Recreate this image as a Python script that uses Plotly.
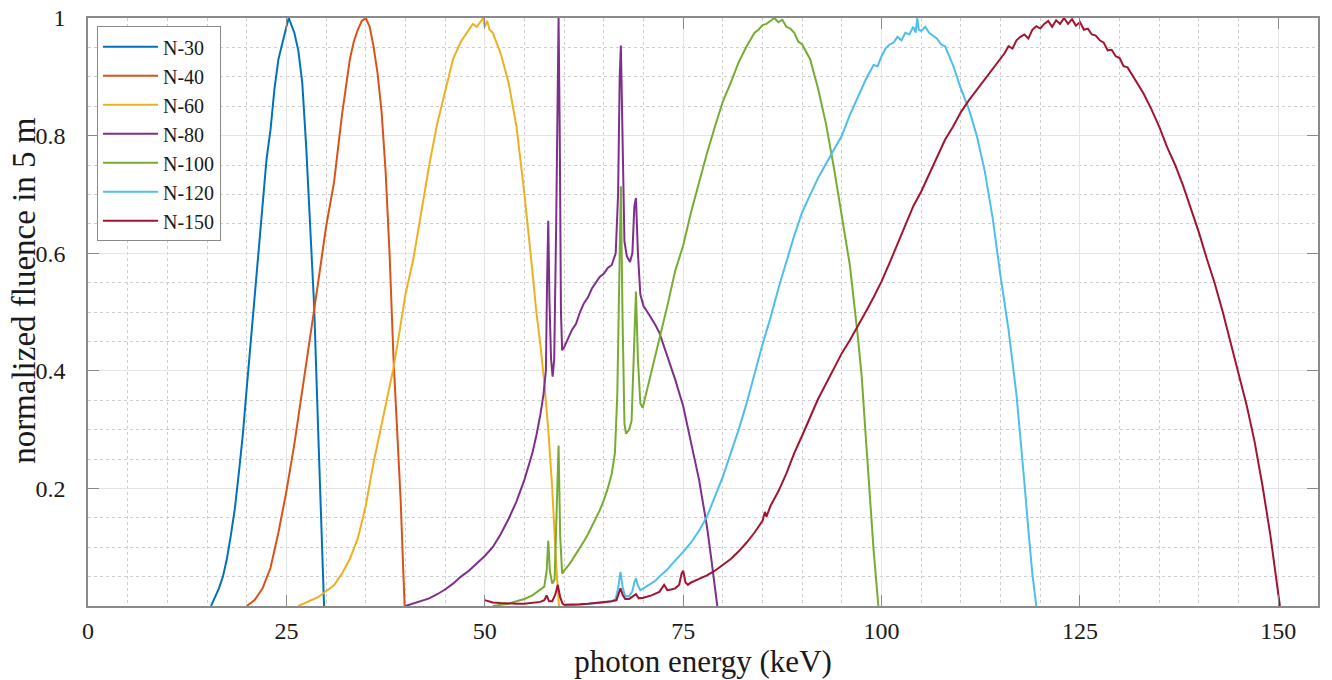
import plotly.graph_objects as go

# ---------------- data ----------------
series_names = ["N-30", "N-40", "N-60", "N-80", "N-100", "N-120", "N-150"]
series_colors = ["#0072BD", "#D95319", "#EDB120", "#7E2F8E", "#77AC30", "#4DBEEE", "#A2142F"]

e_n30 = [15.5, 16, 16.5, 17, 17.5, 18, 18.5, 19, 19.5, 20, 20.5, 21, 21.5, 22, 22.5, 23, 23.5, 24,
         24.5, 25, 25.3, 25.6, 26, 26.5, 27, 27.5, 28, 28.5, 29, 29.3, 29.6, 29.75]
f_n30 = [0, 0.015, 0.03, 0.05, 0.08, 0.12, 0.165, 0.225, 0.29, 0.37, 0.45, 0.52, 0.6, 0.69, 0.76, 0.81,
         0.88, 0.93, 0.96, 0.985, 1.0, 0.99, 0.975, 0.945, 0.89, 0.78, 0.655, 0.51, 0.3, 0.165, 0.04, 0]

e_n40 = [20, 21, 22, 23, 24, 25, 26, 27, 28, 29, 30, 31, 32, 33, 33.5, 34, 34.5, 35, 35.5, 36, 36.5,
         37, 37.5, 38, 38.5, 39, 39.4, 39.7, 39.9]
f_n40 = [0, 0.01, 0.03, 0.065, 0.125, 0.195, 0.275, 0.365, 0.455, 0.55, 0.645, 0.72, 0.835, 0.93, 0.96,
         0.98, 0.995, 1.0, 0.985, 0.95, 0.905, 0.84, 0.74, 0.6, 0.42, 0.29, 0.18, 0.07, 0]

e_n60 = [26.5, 27, 28, 29, 30, 31, 32, 33, 34, 35, 36, 37, 38, 38.5, 39, 40, 41, 42, 43, 44, 45, 46,
         47, 48, 48.5, 49, 49.5, 49.8, 50, 50.3, 50.6, 51, 52, 53, 54, 55, 56, 56.5, 57, 57.5, 58,
         58.5, 59, 59.35]
f_n60 = [0, 0.003, 0.008, 0.015, 0.025, 0.035, 0.055, 0.08, 0.115, 0.17, 0.245, 0.31, 0.375, 0.405,
         0.445, 0.53, 0.59, 0.67, 0.75, 0.82, 0.875, 0.93, 0.96, 0.98, 0.99, 0.985, 0.995, 1.0, 0.985,
         0.995, 0.98, 0.975, 0.94, 0.89, 0.815, 0.7, 0.57, 0.5, 0.445, 0.38, 0.3, 0.2, 0.07, 0]

e_n80 = [40, 41, 42, 43, 44, 45, 46, 47, 48, 49, 50, 51, 52, 53, 54, 55, 56, 56.5, 57, 57.4, 57.7,
         57.85, 58.0, 58.15, 58.35, 58.55, 58.75, 59.0, 59.2, 59.3, 59.45, 59.6, 59.75, 60, 60.5, 61,
         61.5, 62, 62.5, 63, 63.5, 64, 64.5, 65, 65.5, 66, 66.5, 66.8, 67.0, 67.15, 67.35, 67.6, 67.9,
         68.3, 68.6, 68.85, 69.05, 69.3, 69.6, 70, 70.5, 71, 71.5, 72, 73, 74, 75, 76, 76.5, 77, 77.5,
         78, 78.5, 79, 79.3]
f_n80 = [0, 0.004, 0.008, 0.013, 0.02, 0.028, 0.038, 0.05, 0.06, 0.072, 0.085, 0.1, 0.122, 0.148,
         0.178, 0.215, 0.26, 0.29, 0.325, 0.36, 0.4, 0.55, 0.655, 0.52, 0.42, 0.39, 0.42, 0.65, 0.95,
         1.0, 0.8, 0.5, 0.435, 0.44, 0.455, 0.47, 0.48, 0.5, 0.515, 0.525, 0.54, 0.55, 0.56, 0.565,
         0.575, 0.58, 0.6, 0.7, 0.9, 0.953, 0.8, 0.62, 0.595, 0.585, 0.6, 0.68, 0.694, 0.6, 0.53, 0.51,
         0.5, 0.49, 0.478, 0.465, 0.425, 0.385, 0.34, 0.28, 0.25, 0.215, 0.175, 0.135, 0.085, 0.035, 0]

e_n100 = [51, 52, 53, 54, 55, 56, 57, 57.5, 57.8, 58.0, 58.2, 58.5, 58.8, 59.05, 59.3, 59.5, 59.75,
          60, 60.5, 61, 61.5, 62, 62.5, 63, 63.5, 64, 64.5, 65, 65.5, 66, 66.4, 66.7, 66.95, 67.15,
          67.35, 67.6, 67.8, 68.2, 68.5, 68.8, 69.05, 69.3, 69.6, 69.9, 70.5, 71, 71.5, 72, 73, 74, 75,
          76, 77, 78, 79, 80, 81, 82, 83, 84, 84.5, 85, 85.5, 86, 86.5, 87, 87.5, 88, 88.5, 89, 89.5,
          90, 91, 92, 93, 94, 95, 96, 97, 97.5, 98, 98.5, 99, 99.6]
f_n100 = [0, 0.002, 0.004, 0.008, 0.012, 0.018, 0.027, 0.033, 0.06, 0.111, 0.06, 0.038, 0.045, 0.15,
          0.273, 0.12, 0.055, 0.06, 0.068, 0.078, 0.088, 0.1, 0.11, 0.122, 0.135, 0.148, 0.163, 0.18,
          0.2, 0.225, 0.26, 0.36, 0.6, 0.714, 0.5, 0.31, 0.293, 0.3, 0.315, 0.42, 0.535, 0.42, 0.345,
          0.337, 0.37, 0.4, 0.425, 0.45, 0.51, 0.57, 0.613, 0.67, 0.72, 0.77, 0.815, 0.858, 0.89, 0.925,
          0.952, 0.975, 0.98, 0.988, 0.99, 0.995, 1.0, 0.993, 0.997, 0.985, 0.982, 0.975, 0.96, 0.955,
          0.93, 0.88, 0.82, 0.745, 0.665, 0.58, 0.46, 0.39, 0.29, 0.195, 0.095, 0]

e_n120 = [60, 61, 62, 63, 64, 65, 66, 66.5, 66.8, 67.1, 67.4, 67.7, 68.2, 68.6, 68.85, 69.05, 69.3,
          69.6, 70, 70.5, 71, 71.5, 72, 72.5, 73, 73.5, 74, 74.5, 75, 76, 77, 78, 79, 80, 81, 82, 83,
          84, 85, 86, 87, 88, 89, 90, 91, 92, 93, 94, 95, 96, 97, 98, 99, 99.5, 100, 100.5, 101,
          101.5, 102, 102.5, 103, 103.5, 104, 104.3, 104.5, 104.7, 105, 105.5, 106, 106.5, 107, 107.5,
          108, 109, 110, 111, 112, 113, 114, 115, 116, 117, 117.5, 118, 118.5, 119, 119.5]
f_n120 = [0, 0.001, 0.002, 0.003, 0.004, 0.006, 0.008, 0.012, 0.03, 0.058, 0.03, 0.016, 0.017, 0.025,
          0.04, 0.047, 0.035, 0.027, 0.03, 0.034, 0.038, 0.043, 0.05, 0.056, 0.062, 0.07, 0.077, 0.085,
          0.092, 0.108, 0.128, 0.152, 0.185, 0.22, 0.26, 0.3, 0.345, 0.395, 0.445, 0.49, 0.54, 0.585,
          0.63, 0.67, 0.7, 0.728, 0.752, 0.775, 0.8, 0.835, 0.865, 0.895, 0.92, 0.918, 0.935, 0.948,
          0.955, 0.958, 0.968, 0.962, 0.975, 0.972, 0.985, 0.975, 1.0, 0.98, 0.978, 0.985, 0.975, 0.97,
          0.965, 0.955, 0.952, 0.92, 0.88, 0.845, 0.8, 0.74, 0.66, 0.56, 0.47, 0.36, 0.29, 0.21, 0.13,
          0.055, 0]

e_n150 = [50, 50.5, 51, 52, 53, 54, 55, 56, 57, 57.5, 57.8, 58.1, 58.5, 58.9, 59.2, 59.5, 59.8, 60,
          61, 62, 63, 64, 65, 66, 66.6, 66.9, 67.1, 67.4, 67.7, 68.2, 68.7, 69.05, 69.4, 70, 71, 72,
          72.6, 73.0, 73.5, 74, 74.5, 74.8, 75, 75.3, 75.6, 76, 77, 78, 79, 80, 81, 82, 83, 84, 85,
          85.3, 85.5, 86, 87, 88, 89, 90, 91, 92, 93, 94, 95, 96, 97, 98, 99, 100, 101, 102, 103, 104,
          105, 106, 107, 108, 109, 110, 111, 112, 113, 114, 115, 115.5, 116, 116.5, 117, 117.5, 118,
          118.5, 119, 119.5, 120, 120.5, 121, 121.5, 122, 122.5, 123, 123.5, 124, 124.5, 125, 125.5,
          126, 126.5, 127, 127.5, 128, 128.5, 129, 129.5, 130, 130.5, 131, 132, 133, 134, 135, 136,
          137, 138, 139, 140, 141, 142, 143, 144, 145, 146, 147, 148, 149, 149.5, 150, 150.2]
f_n150 = [0.01, 0.008, 0.006, 0.005, 0.004, 0.004, 0.004, 0.005, 0.007, 0.01, 0.018, 0.008, 0.008,
          0.02, 0.036, 0.015, 0.004, 0.002, 0.002, 0.003, 0.004, 0.005, 0.006, 0.008, 0.01, 0.022,
          0.03, 0.018, 0.012, 0.012, 0.016, 0.02, 0.013, 0.014, 0.018, 0.024, 0.036, 0.027, 0.028,
          0.03, 0.036, 0.055, 0.06, 0.04, 0.036, 0.04, 0.046, 0.052, 0.06, 0.07, 0.08, 0.093, 0.108,
          0.125, 0.145, 0.16, 0.152, 0.17, 0.195, 0.225, 0.26, 0.29, 0.32, 0.352, 0.378, 0.405, 0.43,
          0.452, 0.475, 0.5, 0.525, 0.552, 0.583, 0.615, 0.65, 0.68, 0.705, 0.735, 0.765, 0.793, 0.815,
          0.84, 0.86, 0.878, 0.897, 0.915, 0.933, 0.94, 0.952, 0.948, 0.962, 0.968, 0.972, 0.965, 0.98,
          0.986, 0.982, 0.99, 0.995, 0.985, 0.996, 0.99, 1.0, 0.99, 0.998, 0.987, 0.993, 0.98, 0.982,
          0.972, 0.97, 0.962, 0.958, 0.945, 0.946, 0.935, 0.932, 0.918, 0.916, 0.895, 0.872, 0.845,
          0.815, 0.78, 0.75, 0.715, 0.675, 0.635, 0.59, 0.548, 0.5, 0.448, 0.395, 0.342, 0.28, 0.205,
          0.12, 0.07, 0.015, 0]

x_tick_vals = [0, 25, 50, 75, 100, 125, 150]
y_tick_vals = [0.2, 0.4, 0.6, 0.8, 1.0]
y_tick_text = ["0.2", "0.4", "0.6", "0.8", "1"]
x_title = "photon energy (keV)"
y_title = "normalized fluence in 5 m"

energies = [e_n30, e_n40, e_n60, e_n80, e_n100, e_n120, e_n150]
fluences = [f_n30, f_n40, f_n60, f_n80, f_n100, f_n120, f_n150]

# ---------------- figure ----------------
FONT = "Liberation Serif"
fig = go.Figure()
for name, color, e, f in zip(series_names, series_colors, energies, fluences):
    fig.add_trace(go.Scatter(x=e, y=f, mode="lines", name=name,
                             line=dict(color=color, width=2)))

axis_common = dict(
    showline=True, linecolor="#8a8a8a", linewidth=1.5, mirror="ticks",
    ticks="inside", ticklen=11, tickcolor="#8a8a8a", tickwidth=1.2,
    showgrid=True, gridcolor="#e4e4e4", gridwidth=1, automargin=False,
    zeroline=False, tickfont=dict(family=FONT, size=24, color="#1a1a1a"),
)

fig.update_xaxes(
    range=[0, 155], tickmode="array", tickvals=x_tick_vals,
    minor=dict(tickmode="linear", tick0=0, dtick=5, showgrid=True, gridcolor="#cfcfcf",
               griddash="dot", gridwidth=1, ticks=""),
    title=dict(text=x_title, font=dict(family=FONT, size=31, color="#1a1a1a"), standoff=4),
    ticklabelstandoff=2,
    **axis_common,
)
fig.update_yaxes(
    range=[0, 1], tickmode="array", tickvals=y_tick_vals, ticktext=y_tick_text,
    minor=dict(tickmode="linear", tick0=0, dtick=0.05, showgrid=True, gridcolor="#cfcfcf",
               griddash="dot", gridwidth=1, ticks=""),
    ticklabelstandoff=16,
    **axis_common,
)

# y-axis title placed as a rotated label left of the tick labels
fig.add_annotation(
    text=y_title, textangle=-90, xref="paper", yref="paper",
    x=-0.052, y=0.536, xanchor="center", yanchor="middle", showarrow=False,
    font=dict(family=FONT, size=33, color="#1a1a1a"),
)

fig.update_layout(
    width=1332, height=680,
    margin=dict(l=88, r=14, t=18, b=74),
    paper_bgcolor="white", plot_bgcolor="white",
    showlegend=True,
    legend=dict(x=0.0073, y=0.986, xanchor="left", yanchor="top",
                bgcolor="white", bordercolor="#8a8a8a", borderwidth=1,
                font=dict(family=FONT, size=20, color="#1a1a1a"),
                tracegroupgap=0, itemwidth=55),
)

fig.write_html("out.html", include_plotlyjs=True, config={"displayModeBar": False})
